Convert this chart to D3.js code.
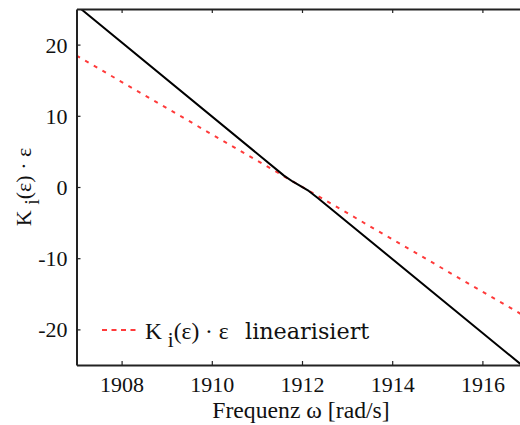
<!DOCTYPE html>
<html><head><meta charset="utf-8">
<script src="https://cdn.jsdelivr.net/npm/d3@7"></script>
<style>
body{margin:0;background:#fff}svg{display:block}
.sf{font-family:"Liberation Serif","Times New Roman",Times,serif}
.dj{font-family:"DejaVu Serif",serif}
</style>
</head><body>
<svg id="c" width="520" height="425"></svg>
<script>
// Data
const omegaK = [1907.1, 1911.6, 1911.8, 1912.15, 1912.35, 1916.87];
const valK   = [25, 1.6, 0.74, -0.55, -1.54, -25];
const omegaLin = [1907, 1916.87];
const valLin   = [18.45, -17.9];
const xTicks = [1908, 1910, 1912, 1914, 1916];
const yTicks = [-20, -10, 0, 10, 20];
const xLabels = ["1908", "1910", "1912", "1914", "1916"];
const yLabels = ["-20", "-10", "0", "10", "20"];

const svg = d3.select("#c");
const L = 76.5, T = 9, B = 365;
const x = d3.scaleLinear().domain([1907, 1917]).range([L, L + 451]);
const y = d3.scaleLinear().domain([-25, 25]).range([B, T]);
const R = x(1917);

svg.append("clipPath").attr("id", "clip").append("rect")
  .attr("x", L).attr("y", T).attr("width", R - L).attr("height", B - T);

const line = d3.line().x(d => x(d[0])).y(d => y(d[1]));
const g = svg.append("g").attr("clip-path", "url(#clip)");
g.append("path").datum(omegaLin.map((o, i) => [o, valLin[i]]))
  .attr("d", line).attr("fill", "none").attr("stroke", "#ff3a3a")
  .attr("stroke-width", 2).attr("stroke-dasharray", "4,6");
g.append("path").datum(omegaK.map((o, i) => [o, valK[i]]))
  .attr("d", line).attr("fill", "none").attr("stroke", "#000")
  .attr("stroke-width", 2).attr("stroke-linejoin", "round");

// Axes (ticks inward)
const axB = svg.append("g").attr("transform", `translate(0,${B})`)
  .call(d3.axisBottom(x).tickValues(xTicks).tickFormat((d, i) => xLabels[i]).tickSizeInner(-4).tickSizeOuter(0).tickPadding(11));
const axT = svg.append("g").attr("transform", `translate(0,${T})`)
  .call(d3.axisTop(x).tickValues(xTicks).tickFormat("").tickSizeInner(-4).tickSizeOuter(0));
const axL = svg.append("g").attr("transform", `translate(${L},0)`)
  .call(d3.axisLeft(y).tickValues(yTicks).tickFormat((d, i) => yLabels[i]).tickSizeInner(-4).tickSizeOuter(0).tickPadding(9));
const axR = svg.append("g").attr("transform", `translate(${R},0)`)
  .call(d3.axisRight(y).tickValues(yTicks).tickFormat("").tickSizeInner(-4).tickSizeOuter(0));
[axB, axT, axL, axR].forEach(a => {
  a.attr("font-family", null).attr("font-size", null).attr("class", "sf");
  a.select(".domain").attr("stroke", "#222").attr("stroke-width", 2);
  a.selectAll(".tick line").attr("stroke", "#222").attr("stroke-width", 1.2);
  a.selectAll("text").attr("font-size", 22).attr("fill", "#111");
});
axL.selectAll("text").attr("dy", "0.34em");

// Axis titles
svg.append("text").attr("class", "sf").attr("x", 301).attr("y", 418).attr("text-anchor", "middle")
  .attr("font-size", 23.7).attr("fill", "#111")
  .text("Frequenz ω [rad/s]");

const yl = svg.append("text").attr("class", "sf").attr("transform", "translate(31,187) rotate(-90)")
  .attr("text-anchor", "middle").attr("font-size", 22).attr("fill", "#111");
yl.append("tspan").text("K ");
yl.append("tspan").attr("dy", 8).attr("font-size", 20).text("i");
yl.append("tspan").attr("dy", -8).text("(ε) · ε");

// Legend
svg.append("line").attr("x1", 102).attr("x2", 137).attr("y1", y(-20) + 0.5).attr("y2", y(-20) + 0.5)
  .attr("stroke", "#ff3a3a").attr("stroke-width", 2).attr("stroke-dasharray", "5,4.5");
const lt = svg.append("text").attr("class", "sf").attr("x", 145).attr("y", 339)
  .attr("font-size", 23.5).attr("fill", "#111");
lt.append("tspan").text("K ");
lt.append("tspan").attr("dy", 8).attr("font-size", 21).text("i");
lt.append("tspan").attr("dy", -8).text("(ε) · ε");
svg.append("text").attr("class", "dj").attr("x", 245).attr("y", 339)
  .attr("font-size", 22.3).attr("fill", "#111")
  .text("linearisiert");
</script>
</body></html>
